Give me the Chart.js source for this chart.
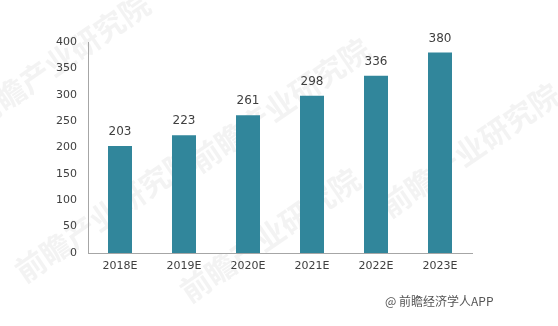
<!DOCTYPE html>
<html><head><meta charset="utf-8">
<script src="https://cdn.jsdelivr.net/npm/chart.js@4/dist/chart.umd.min.js"></script>
<style>html,body{margin:0;padding:0;background:#fff;}#wrap{position:relative;width:558px;height:326px;}</style>
</head><body><div id="wrap"><canvas id="c" width="558" height="326"></canvas></div>
<script>
const categories = ['2018E','2019E','2020E','2021E','2022E','2023E'];
const values = [203,223,261,298,336,380];
const yTicks = [0,50,100,150,200,250,300,350,400];
const sourceText = '@ 前瞻经济学人APP';
const watermarkText = '前瞻产业研究院';

const FONT = "'DejaVu Sans', Verdana, sans-serif";
const watermark = {
  id:'wm',
  beforeDraw(chart){
    const ctx = chart.ctx; ctx.save();
    ctx.fillStyle = 'rgba(225,225,225,0.4)';
    ctx.font = "bold 30px 'Noto Sans CJK SC'";
    const spots = [[60,60],[280,105],[105,215],[270,235],[470,150]];
    for (const [x,y] of spots){ ctx.save(); ctx.translate(x,y); ctx.rotate(-0.6); ctx.textAlign='center'; ctx.textBaseline='middle'; ctx.fillText(watermarkText,0,0); ctx.restore(); }
    ctx.restore();
  }
};
const labels = {
  id:'lbl',
  afterDatasetsDraw(chart){
    const ctx = chart.ctx; ctx.save();
    ctx.fillStyle = '#404040'; ctx.font = '12px '+FONT; ctx.textAlign='center'; ctx.textBaseline='bottom';
    chart.getDatasetMeta(0).data.forEach((b,i)=>{ ctx.fillText(String(values[i]), b.x, b.y-8); });
    ctx.font = "12px 'Noto Sans CJK SC'"; ctx.fillStyle='#555'; ctx.textAlign='left'; ctx.textBaseline='middle';
    ctx.fillText(sourceText, 385, 301);
    ctx.restore();
  }
};
new Chart(document.getElementById('c'), {
  type:'bar',
  data:{labels:categories, datasets:[{data:values, backgroundColor:'#31869B', barPercentage:0.375, categoryPercentage:1}]},
  options:{
    responsive:false, animation:false,
    layout:{padding:{left:0,right:86,top:42,bottom:0}},
    plugins:{legend:{display:false}, tooltip:{enabled:false}},
    scales:{
      x:{grid:{display:false, drawTicks:false}, border:{color:'#a6a6a6'},
         ticks:{color:'#404040', font:{family:FONT,size:11}, padding:7},
         afterFit(s){ s.height = 73; }},
      y:{min:0,max:400, afterBuildTicks(s){ s.ticks = yTicks.map(v=>({value:v})); },
         grid:{display:false, drawTicks:false}, border:{color:'#a6a6a6'},
         ticks:{color:'#404040', font:{family:FONT,size:11}, padding:11},
         afterFit(s){ s.width = 88; }}
    }
  },
  plugins:[watermark, labels]
});
</script></body></html>
